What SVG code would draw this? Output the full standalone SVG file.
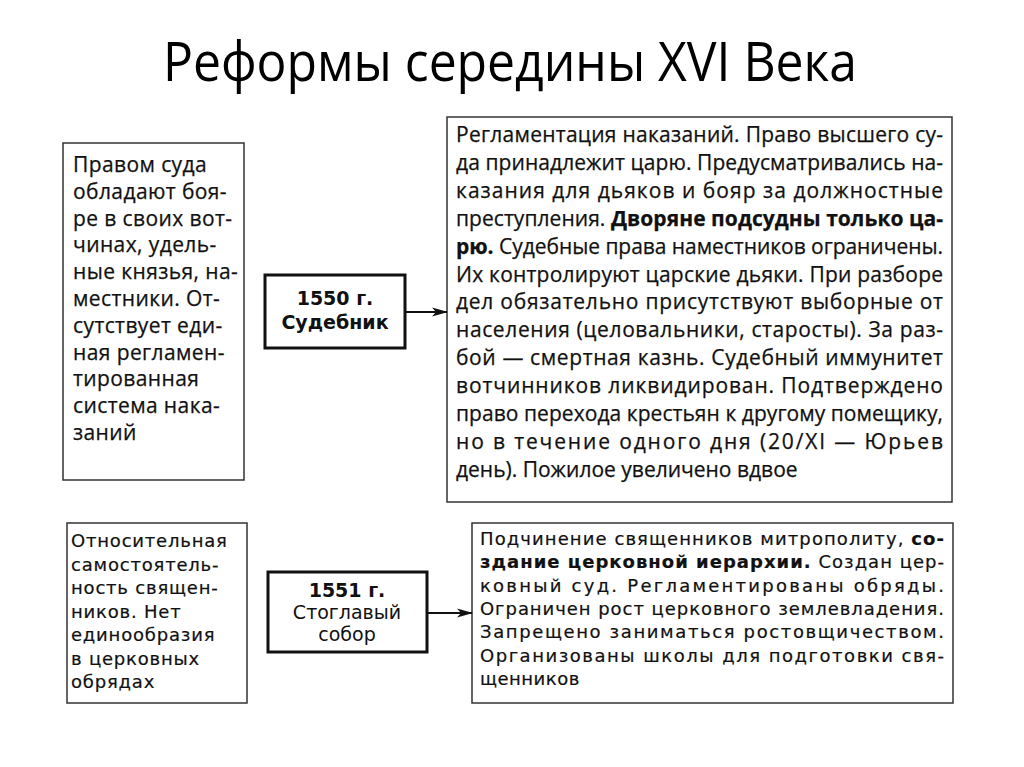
<svg xmlns="http://www.w3.org/2000/svg" width="1024" height="767" viewBox="0 0 1024 767">
<style>
.title{font-family:"Open Sans","Liberation Sans",sans-serif;font-size:55px;fill:#000}
.box{fill:#fff;stroke:#333;stroke-width:1.5}
.key{fill:#fff;stroke:#111;stroke-width:3}
.a{font-family:"Open Sans","Liberation Sans",sans-serif;font-size:21px;fill:#111;stroke:#111;stroke-width:0.25}
.d{font-family:"DejaVu Sans","Liberation Sans",sans-serif;font-size:18px;fill:#111;stroke:#111;stroke-width:0.2}
.b{font-weight:bold}
.kt{font-family:"DejaVu Sans","Liberation Sans",sans-serif;font-size:19px;fill:#111;text-anchor:middle}
.conn{stroke:#111;stroke-width:2;fill:none}
</style>
<defs>
<marker id="arr" markerUnits="userSpaceOnUse" markerWidth="16" markerHeight="12" refX="15" refY="6" orient="auto">
<path d="M0,1.5 L16,6 L0,10.5 L4,6 Z" fill="#111"/>
</marker>
</defs>
<text class="title" x="163" y="81" textLength="694" lengthAdjust="spacingAndGlyphs">Реформы середины XVI Века</text>

<g id="before-1550">
<rect class="box" x="63" y="143" width="181" height="337"/>
<text class="a" font-size="20.5" letter-spacing="0.4">
<tspan x="73" y="172">Правом суда</tspan>
<tspan x="73" y="198.8">обладают боя-</tspan>
<tspan x="73" y="225.6">ре в своих вот-</tspan>
<tspan x="73" y="252.4">чинах, удель-</tspan>
<tspan x="73" y="279.2">ные князья, на-</tspan>
<tspan x="73" y="306">местники. От-</tspan>
<tspan x="73" y="332.8">сутствует еди-</tspan>
<tspan x="73" y="359.6">ная регламен-</tspan>
<tspan x="73" y="386.4">тированная</tspan>
<tspan x="73" y="413.2">система нака-</tspan>
<tspan x="73" y="440">заний</tspan>
</text>
</g>

<g id="sudebnik-1550">
<rect class="key" x="265" y="275" width="140" height="73"/>
<text class="kt b" x="335" y="305" font-size="20">1550 г.</text>
<text class="kt b" x="335" y="329">Судебник</text>
</g>

<g id="after-1550">
<rect class="box" x="447" y="117" width="505" height="385"/>
<text class="a" x="456" y="142" textLength="487" lengthAdjust="spacing">Регламентация наказаний. Право высшего су-</text>
<text class="a" x="456" y="169.9" textLength="487" lengthAdjust="spacing">да принадлежит царю. Предусматривались на-</text>
<text class="a" x="456" y="197.8" textLength="487" lengthAdjust="spacing">казания для дьяков и бояр за должностные</text>
<text class="a" x="456" y="225.7" textLength="487" lengthAdjust="spacing">преступления. <tspan class="b">Дворяне подсудны только ца-</tspan></text>
<text class="a" x="456" y="253.6" textLength="487" lengthAdjust="spacing"><tspan class="b">рю.</tspan> Судебные права наместников ограничены.</text>
<text class="a" x="456" y="281.5" textLength="487" lengthAdjust="spacing">Их контролируют царские дьяки. При разборе</text>
<text class="a" x="456" y="309.4" textLength="487" lengthAdjust="spacing">дел обязательно присутствуют выборные от</text>
<text class="a" x="456" y="337.3" textLength="487" lengthAdjust="spacing">населения (целовальники, старосты). За раз-</text>
<text class="a" x="456" y="365.2" textLength="487" lengthAdjust="spacing">бой — смертная казнь. Судебный иммунитет</text>
<text class="a" x="456" y="393.1" textLength="487" lengthAdjust="spacing">вотчинников ликвидирован. Подтверждено</text>
<text class="a" x="456" y="421" textLength="487" lengthAdjust="spacing">право перехода крестьян к другому помещику,</text>
<text class="a" x="456" y="448.9" textLength="487" lengthAdjust="spacing">но в течение одного дня (20/XI — Юрьев</text>
<text class="a" x="456" y="476.8">день). Пожилое увеличено вдвое</text>
</g>

<g id="before-1551">
<rect class="box" x="67" y="523" width="180" height="180"/>
<text class="d" letter-spacing="0.8">
<tspan x="71" y="547">Относительная</tspan>
<tspan x="71" y="570.5">самостоятель-</tspan>
<tspan x="71" y="594">ность священ-</tspan>
<tspan x="71" y="617.5">ников. Нет</tspan>
<tspan x="71" y="641">единообразия</tspan>
<tspan x="71" y="664.5">в церковных</tspan>
<tspan x="71" y="688">обрядах</tspan>
</text>
</g>

<g id="stoglav-1551">
<rect class="key" x="268" y="572" width="159" height="80" stroke-width="2.5"/>
<text class="kt b" x="347" y="597">1551 г.</text>
<text class="kt" x="347" y="619">Стоглавый</text>
<text class="kt" x="347" y="641">собор</text>
</g>

<g id="after-1551">
<rect class="box" x="472" y="523" width="481" height="180"/>
<text class="d" x="480" y="545" textLength="464" lengthAdjust="spacing">Подчинение священников митрополиту, <tspan class="b">со-</tspan></text>
<text class="d" x="480" y="568.3" textLength="464" lengthAdjust="spacing"><tspan class="b">здание церковной иерархии.</tspan> Создан цер-</text>
<text class="d" x="480" y="591.6" textLength="464" lengthAdjust="spacing">ковный суд. Регламентированы обряды.</text>
<text class="d" x="480" y="614.9" textLength="464" lengthAdjust="spacing">Ограничен рост церковного землевладения.</text>
<text class="d" x="480" y="638.2" textLength="464" lengthAdjust="spacing">Запрещено заниматься ростовщичеством.</text>
<text class="d" x="480" y="661.5" textLength="464" lengthAdjust="spacing">Организованы школы для подготовки свя-</text>
<text class="d" x="480" y="684.8" letter-spacing="0.5">щенников</text>
</g>

<g id="connectors">
<line class="conn" x1="405" y1="312" x2="447" y2="312" marker-end="url(#arr)"/>
<line class="conn" x1="427" y1="613" x2="472" y2="613" marker-end="url(#arr)"/>
</g>
</svg>
